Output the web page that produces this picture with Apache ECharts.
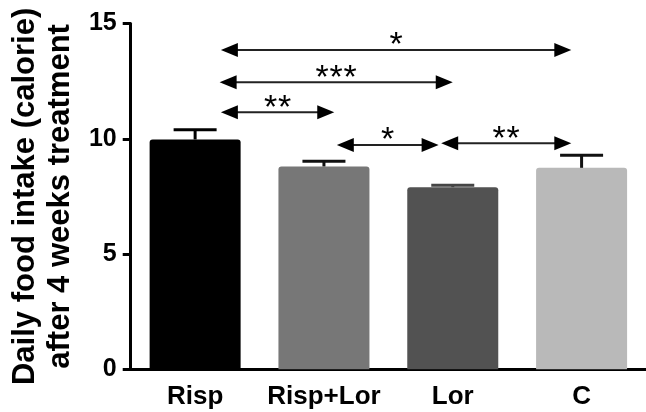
<!DOCTYPE html>
<html>
<head>
<meta charset="utf-8">
<script src="https://cdn.jsdelivr.net/npm/echarts@6/dist/echarts.min.js"></script>
<style>html,body{margin:0;padding:0;background:#fff}#c{width:646px;height:412px}</style>
</head>
<body>
<div id="c"></div>
<script>
const categories = ['Risp', 'Risp+Lor', 'Lor', 'C'];
const means = [9.97, 8.8, 7.9, 8.74];
const errorTops = [10.39, 9.03, 7.98, 9.28];
const barColors = ['#000000', '#777777', '#525252', '#b9b9b9'];
const errColors = ['#000000', '#111111', '#454545', '#111111'];
const yTicks = [0, 5, 10, 15];

const arrowStart = [0.2, 0.19, 0.2, 1.1, 1.91];
const arrowEnd = [2.92, 2.0, 1.08, 1.89, 2.92];
const arrowLevel = [13.85, 12.45, 11.15, 9.73, 9.81];
const arrowMark = ['*', '***', '**', '*', '**'];

const FONT = '"Liberation Sans", Arial, sans-serif';

const chart = echarts.init(document.getElementById('c'));

const arrowData = arrowStart.map((s, i) => [s, arrowEnd[i], arrowLevel[i], i]);
const errData = means.map((m, i) => [i, m, errorTops[i]]);

chart.setOption({
  animation: false,
  grid: { left: 127, right: -1, top: 23.5, bottom: 42.7 },
  xAxis: [{
    type: 'category',
    data: categories,
    axisLine: { lineStyle: { color: '#000', width: 3 } },
    axisTick: { alignWithLabel: true, length: 8, lineStyle: { color: '#000', width: 3 } },
    axisLabel: { interval: 0, color: '#000', fontSize: 26, fontWeight: 'bold', fontFamily: FONT, margin: 15 }
  }, {
    type: 'value', min: -0.5, max: 3.5, show: false
  }],
  yAxis: {
    type: 'value', min: yTicks[0], max: yTicks[yTicks.length - 1], interval: 5,
    name: 'Daily food intake (calorie)\nafter 4 weeks treatment',
    nameLocation: 'middle',
    nameGap: 52,
    nameTextStyle: { color: '#000', fontSize: 31, fontWeight: 'bold', fontFamily: FONT, lineHeight: 35 },
    axisLine: { show: true, onZero: false, lineStyle: { color: '#000', width: 3 } },
    axisTick: { show: true, length: 8, lineStyle: { color: '#000', width: 3 } },
    axisLabel: { color: '#000', fontSize: 25, fontWeight: 'bold', fontFamily: FONT, margin: 14 },
    splitLine: { show: false }
  },
  series: [{
    type: 'bar',
    data: means.map((v, i) => ({ value: v, itemStyle: { color: barColors[i] } })),
    barWidth: 91,
    itemStyle: { borderRadius: [3, 3, 0, 0] }
  }, {
    type: 'custom',
    xAxisIndex: 0,
    data: errData,
    renderItem: function (params, api) {
      const i = api.value(0);
      const p0 = api.coord([i, api.value(1)]);
      const p1 = api.coord([i, api.value(2)]);
      const c = errColors[i];
      return {
        type: 'group',
        children: [
          { type: 'line', shape: { x1: p0[0], y1: p0[1], x2: p1[0], y2: p1[1] }, style: { stroke: c, lineWidth: 3 } },
          { type: 'line', shape: { x1: p1[0] - 21.5, y1: p1[1], x2: p1[0] + 21.5, y2: p1[1] }, style: { stroke: c, lineWidth: 3 } }
        ]
      };
    },
    z: 3
  }, {
    type: 'custom',
    xAxisIndex: 1,
    data: arrowData,
    renderItem: function (params, api) {
      const a = api.coord([api.value(0), api.value(2)]);
      const b = api.coord([api.value(1), api.value(2)]);
      const mark = arrowMark[api.value(3)];
      const y = a[1];
      const L = 17, H = 7;
      const children = [
        { type: 'line', shape: { x1: a[0] + 4, y1: y, x2: b[0] - 4, y2: y }, style: { stroke: '#222', lineWidth: 2 } },
        { type: 'polygon', shape: { points: [[a[0], y], [a[0] + L, y - H], [a[0] + L, y + H]] }, style: { fill: '#000' } },
        { type: 'polygon', shape: { points: [[b[0], y], [b[0] - L, y - H], [b[0] - L, y + H]] }, style: { fill: '#000' } }
      ];
      const mid = (a[0] + b[0]) / 2;
      const pitch = 14;
      const n = mark.length;
      for (let k = 0; k < n; k++) {
        children.push({
          type: 'text',
          style: {
            text: mark[k], x: mid + (k - (n - 1) / 2) * pitch, y: y - 4,
            fill: '#000', fontSize: 34, fontFamily: FONT, align: 'center', verticalAlign: 'middle'
          }
        });
      }
      return { type: 'group', children: children };
    },
    z: 4
  }]
});
</script>
</body>
</html>
